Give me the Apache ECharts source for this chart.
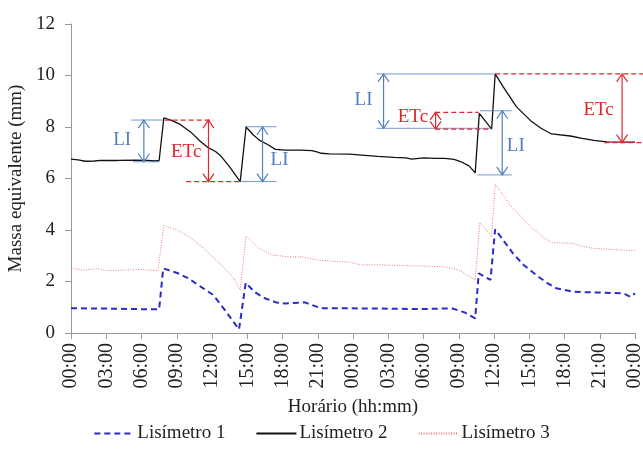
<!DOCTYPE html>
<html>
<head>
<meta charset="utf-8">
<script src="https://cdn.jsdelivr.net/npm/echarts@6/dist/echarts.min.js"></script>
<style>
  html, body { margin: 0; padding: 0; background: #fff; }
  #chart { width: 643px; height: 460px; }
</style>
</head>
<body>
<div id="chart"></div>
<script>
// time in hours since the first 00:00, mass in mm
const l1Time = [0, 3, 5, 7.5, 7.85, 9.1, 10, 11.1, 12.1, 13.1, 13.8, 14.3, 14.87, 15.6, 16.5, 17.5, 18.2, 19.9, 20.5, 21.3, 23, 26, 30, 32.4, 33.5, 34.4, 34.7, 35.7, 36.1, 37.6, 38.5, 39.6, 40.5, 41.3, 42.75, 45, 47, 47.6, 48];
const l1Mass = [0.96, 0.95, 0.93, 0.92, 2.51, 2.32, 2.12, 1.78, 1.48, 0.89, 0.45, 0.14, 1.95, 1.6, 1.35, 1.18, 1.15, 1.19, 1.09, 0.96, 0.96, 0.95, 0.93, 0.96, 0.8, 0.57, 2.32, 2.06, 4.03, 3.1, 2.65, 2.25, 1.95, 1.74, 1.6, 1.57, 1.54, 1.41, 1.54];

const l2Time = [0, 0.6, 1.2, 2, 2.5, 4, 5.5, 6.5, 7.2, 7.5, 7.9, 8.5, 9.3, 10.2, 11, 11.6, 12.3, 12.8, 13.5, 14.4, 14.9, 15.5, 16, 16.8, 17.4, 18.2, 19.5, 20.5, 21, 21.3, 22, 23.7, 25, 26.1, 27.5, 28.5, 29, 30, 31, 31.8, 32.6, 33.2, 33.9, 34.4, 34.75, 35.8, 36.1, 36.8, 37.9, 39.2, 40, 40.9, 42.5, 43.5, 44.5, 45.6, 48];
const l2Mass = [6.75, 6.72, 6.67, 6.68, 6.7, 6.7, 6.71, 6.7, 6.68, 6.7, 8.35, 8.27, 8.1, 7.8, 7.45, 7.22, 7.05, 6.85, 6.45, 5.88, 8.0, 7.7, 7.5, 7.3, 7.13, 7.1, 7.1, 7.08, 7.02, 6.98, 6.96, 6.95, 6.9, 6.86, 6.82, 6.8, 6.75, 6.8, 6.78, 6.78, 6.74, 6.65, 6.48, 6.22, 8.53, 7.92, 10.06, 9.55, 8.79, 8.21, 7.95, 7.73, 7.65, 7.56, 7.48, 7.42, 7.41];

const l3Time = [0, 1, 2.2, 3, 4.5, 6, 7.4, 7.9, 9, 10, 11, 12, 13, 13.8, 14.4, 14.9, 16, 17.1, 18.5, 19.6, 21, 22.5, 23.7, 24.7, 26, 28, 30, 31.8, 33, 34.4, 34.8, 35.8, 36.1, 37.4, 39.1, 40.1, 40.9, 42.75, 43.3, 44.45, 47, 48];
const l3Mass = [2.52, 2.44, 2.5, 2.43, 2.44, 2.47, 2.42, 4.17, 4.0, 3.75, 3.4, 2.98, 2.55, 2.15, 1.67, 3.77, 3.3, 3.03, 2.96, 2.96, 2.83, 2.78, 2.75, 2.64, 2.65, 2.62, 2.6, 2.57, 2.45, 2.06, 4.28, 3.74, 5.79, 4.95, 4.13, 3.75, 3.51, 3.48, 3.38, 3.29, 3.22, 3.2];

const seriesNames = ['Lisímetro 1', 'Lisímetro 2', 'Lisímetro 3'];

// annotations: arrows [t, top, bottom], guides [t1, t2, level], labels [t, level]
const liArrows = [[6.2, 8.27, 6.65], [16.3, 8.01, 5.88], [26.6, 10.06, 7.95], [36.7, 8.63, 6.14]];
const liGuides = [[5.13, 7.83, 8.27], [5.28, 7.55, 6.65], [14.8, 17.5, 8.01], [14.4, 17.5, 5.88], [26.0, 36.0, 10.06], [26.0, 35.8, 7.95], [34.8, 37.5, 8.63], [34.6, 37.5, 6.14]];
const liLabels = [[4.36, 7.5], [17.75, 6.72], [24.9, 9.05], [37.85, 7.26]];

const etcArrows = [[11.7, 8.27, 5.88], [31.03, 8.57, 7.92], [46.9, 10.06, 7.39]];
const etcGuides = [[7.97, 12.1, 8.27], [9.8, 14.4, 5.88], [31.0, 34.7, 8.57], [31.0, 35.8, 7.92], [36.1, 48.7, 10.06], [45.4, 48.7, 7.39]];
const etcLabels = [[9.8, 7.04], [29.1, 8.37], [44.9, 8.66]];

const zip = (xs, ys) => xs.map((x, i) => [x, ys[i]]);

const serif = 'Liberation Serif, Times New Roman, serif';
const blue = '#4f81bd';
const red = '#e3262b';

// double-headed arrow with open chevrons
function arrowRenderer(color) {
  return function (params, api) {
    const top = api.coord([api.value(0), api.value(1)]);
    const bot = api.coord([api.value(0), api.value(2)]);
    const h = Math.min(8, (bot[1] - top[1]) / 2.2);
    const w = 5.5;
    const style = { stroke: color, lineWidth: 1.2, fill: null };
    return {
      type: 'group',
      children: [
        { type: 'line', shape: { x1: top[0], y1: top[1], x2: bot[0], y2: bot[1] }, style: style },
        { type: 'polyline', shape: { points: [[top[0] - w, top[1] + h], [top[0], top[1]], [top[0] + w, top[1] + h]] }, style: style },
        { type: 'polyline', shape: { points: [[bot[0] - w, bot[1] - h], [bot[0], bot[1]], [bot[0] + w, bot[1] - h]] }, style: style }
      ]
    };
  };
}

function guideRenderer(color, dashed) {
  return function (params, api) {
    const a = api.coord([api.value(0), api.value(2)]);
    const b = api.coord([api.value(1), api.value(2)]);
    return {
      type: 'line',
      shape: { x1: a[0], y1: a[1], x2: b[0], y2: b[1] },
      style: { stroke: color, lineWidth: dashed ? 1.3 : 1, lineDash: dashed ? [5, 3] : null, opacity: dashed ? 1 : 0.8 }
    };
  };
}

function labelRenderer(color, text) {
  return function (params, api) {
    const p = api.coord([api.value(0), api.value(1)]);
    return {
      type: 'text',
      style: { text: text, x: p[0], y: p[1], align: 'center', verticalAlign: 'middle', fill: color, fontSize: 19, fontFamily: serif }
    };
  };
}

function annot(data, renderItem) {
  return { type: 'custom', data: data, renderItem: renderItem, silent: true, clip: false, z: 5 };
}

const chart = echarts.init(document.getElementById('chart'));

const option = {
  animation: false,
  textStyle: { fontFamily: serif },
  grid: { left: 71, right: 8, top: 24, bottom: 127, outerBoundsMode: 'none' },
  legend: {
    data: seriesNames,
    bottom: 12,
    left: 'center',
    itemWidth: 40,
    itemHeight: 12,
    itemGap: 30,
    itemStyle: { opacity: 0 },
    textStyle: { fontFamily: serif, fontSize: 19, color: '#222', padding: [0, 0, 0, -2] }
  },
  xAxis: {
    type: 'value',
    min: 0,
    max: 48,
    interval: 3,
    name: 'Horário (hh:mm)',
    nameLocation: 'middle',
    nameGap: 65,
    nameTextStyle: { fontFamily: serif, fontSize: 19, color: '#222' },
    axisLine: { show: true, lineStyle: { color: '#999' } },
    axisTick: { show: true, length: 6, lineStyle: { color: '#999' } },
    splitLine: { show: false },
    axisLabel: {
      rotate: 90,
      margin: 10,
      fontFamily: serif,
      fontSize: 20,
      color: '#222',
      formatter: function (v) {
        const h = v % 24;
        return (h < 10 ? '0' : '') + h + ':00';
      }
    }
  },
  yAxis: {
    type: 'value',
    min: 0,
    max: 12,
    interval: 2,
    name: 'Massa equivalente (mm)',
    nameLocation: 'middle',
    nameGap: 43,
    nameTextStyle: { fontFamily: serif, fontSize: 19, color: '#222' },
    axisLine: { show: true, lineStyle: { color: '#999' } },
    axisTick: { show: true, length: 6, lineStyle: { color: '#999' } },
    splitLine: { show: false },
    axisLabel: { margin: 16, fontFamily: serif, fontSize: 19, color: '#222' }
  },
  series: [
    {
      name: seriesNames[0],
      type: 'line',
      data: zip(l1Time, l1Mass),
      symbol: 'none',
      color: '#2b2bc9',
      lineStyle: { color: '#2b2bc9', width: 2, type: [6, 4] },
      z: 3
    },
    {
      name: seriesNames[1],
      type: 'line',
      data: zip(l2Time, l2Mass),
      symbol: 'none',
      color: '#111',
      lineStyle: { color: '#111', width: 1.3 },
      z: 3
    },
    {
      name: seriesNames[2],
      type: 'line',
      data: zip(l3Time, l3Mass),
      symbol: 'none',
      color: '#e87878',
      lineStyle: { color: '#e87878', width: 1, type: [1, 1.5] },
      z: 3
    },
    annot(liGuides, guideRenderer(blue, false)),
    annot(etcGuides, guideRenderer(red, true)),
    annot(liArrows, arrowRenderer(blue)),
    annot(etcArrows, arrowRenderer(red)),
    annot(liLabels, labelRenderer(blue, 'LI')),
    annot(etcLabels, labelRenderer(red, 'ETc'))
  ]
};

chart.setOption(option);
</script>
</body>
</html>
